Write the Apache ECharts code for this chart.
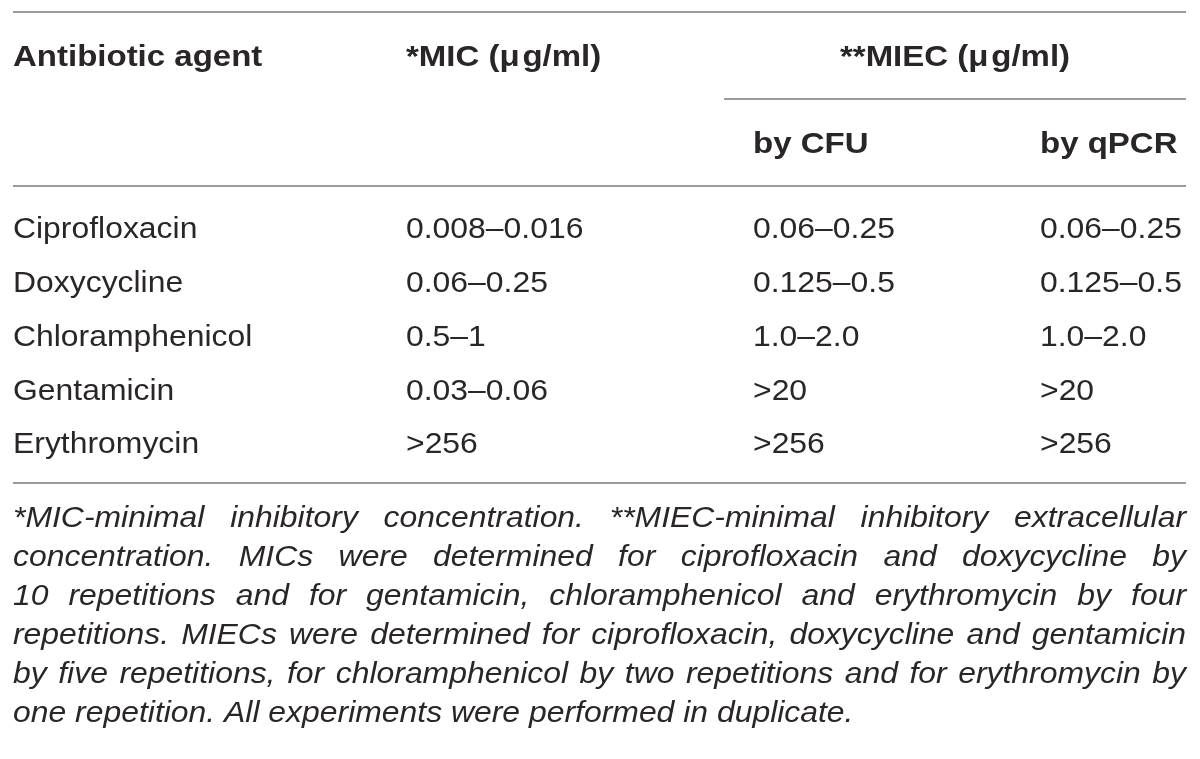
<!DOCTYPE html>
<html>
<head>
<meta charset="utf-8">
<script src="https://cdn.jsdelivr.net/npm/echarts@6/dist/echarts.min.js"></script>
<style>
html,body{margin:0;padding:0;background:#fff;}
#main{width:1200px;height:759px;}
</style>
</head>
<body>
<div id="main"></div>
<script>
// ---- data ----
var headerTop = ['Antibiotic agent', '*MIC (\u03bc\u200Ag/ml)', '**MIEC (\u03bc\u200Ag/ml)'];
var headerSub = ['by CFU', 'by qPCR'];
var agents = ['Ciprofloxacin', 'Doxycycline', 'Chloramphenicol', 'Gentamicin', 'Erythromycin'];
var micValues = ['0.008\u20130.016', '0.06\u20130.25', '0.5\u20131', '0.03\u20130.06', '>256'];
var miecCFU = ['0.06\u20130.25', '0.125\u20130.5', '1.0\u20132.0', '>20', '>256'];
var miecQPCR = ['0.06\u20130.25', '0.125\u20130.5', '1.0\u20132.0', '>20', '>256'];
var footnoteLines = [
  '*MIC-minimal inhibitory concentration. **MIEC-minimal inhibitory extracellular',
  'concentration. MICs were determined for ciprofloxacin and doxycycline by',
  '10 repetitions and for gentamicin, chloramphenicol and erythromycin by four',
  'repetitions. MIECs were determined for ciprofloxacin, doxycycline and gentamicin',
  'by five repetitions, for chloramphenicol by two repetitions and for erythromycin by',
  'one repetition. All experiments were performed in duplicate.'
];

// ---- layout ----
var FAM = '"Liberation Sans", Arial, Helvetica, sans-serif';
var SX = 1.1;
var TXT = '#2a2627';
var RULE = '#9b9b9b';
var left = 13, right = 1186;
var colX = [13, 406, 753, 1040];
var bodySize = 29, headSize = 30, noteSize = 29;

var canvas = document.createElement('canvas');
var ctx = canvas.getContext('2d');
function measure(t, font) { ctx.font = font; return ctx.measureText(t).width * SX; }

var els = [];
function txt(t, x, baseline, size, weight, style, align) {
  els.push({
    type: 'text', x: x, y: baseline - size * 0.34, scaleX: SX, silent: true,
    style: {
      text: t, x: 0, y: 0, fill: TXT,
      font: (style || 'normal') + ' ' + (weight || 'normal') + ' ' + size + 'px ' + FAM,
      textAlign: align || 'left', textVerticalAlign: 'middle'
    }
  });
}
function rule(x1, x2, y) {
  els.push({ type: 'line', silent: true, shape: { x1: x1, y1: y, x2: x2, y2: y },
    style: { stroke: RULE, lineWidth: 2 } });
}

rule(left, right, 12);
rule(724, right, 99);
rule(left, right, 186);
rule(left, right, 483);

txt(headerTop[0], colX[0], 68, headSize, 'bold');
txt(headerTop[1], colX[1], 68, headSize, 'bold');
txt(headerTop[2], (724 + right) / 2, 68, headSize, 'bold', 'normal', 'center');
txt(headerSub[0], colX[2], 155, headSize, 'bold');
txt(headerSub[1], colX[3], 155, headSize, 'bold');

var rowBase0 = 240, rowStep = 53.8;
agents.forEach(function (a, i) {
  var b = rowBase0 + i * rowStep;
  txt(a, colX[0], b, bodySize);
  txt(micValues[i], colX[1], b, bodySize);
  txt(miecCFU[i], colX[2], b, bodySize);
  txt(miecQPCR[i], colX[3], b, bodySize);
});

var noteBase0 = 529, noteStep = 39;
var noteFont = 'italic normal ' + noteSize + 'px ' + FAM;
footnoteLines.forEach(function (line, i) {
  var b = noteBase0 + i * noteStep;
  if (i === footnoteLines.length - 1) { txt(line, left, b, noteSize, 'normal', 'italic'); return; }
  var words = line.split(' ');
  var widths = words.map(function (w) { return measure(w, noteFont); });
  var total = widths.reduce(function (s, w) { return s + w; }, 0);
  var gap = (right - left - total) / (words.length - 1);
  var x = left;
  words.forEach(function (w, k) {
    txt(w, x, b, noteSize, 'normal', 'italic');
    x += widths[k] + gap;
  });
});

var chart = echarts.init(document.getElementById('main'), null, { renderer: 'canvas' });
chart.setOption({ backgroundColor: '#ffffff', animation: false, graphic: { elements: els } });
</script>
</body>
</html>
